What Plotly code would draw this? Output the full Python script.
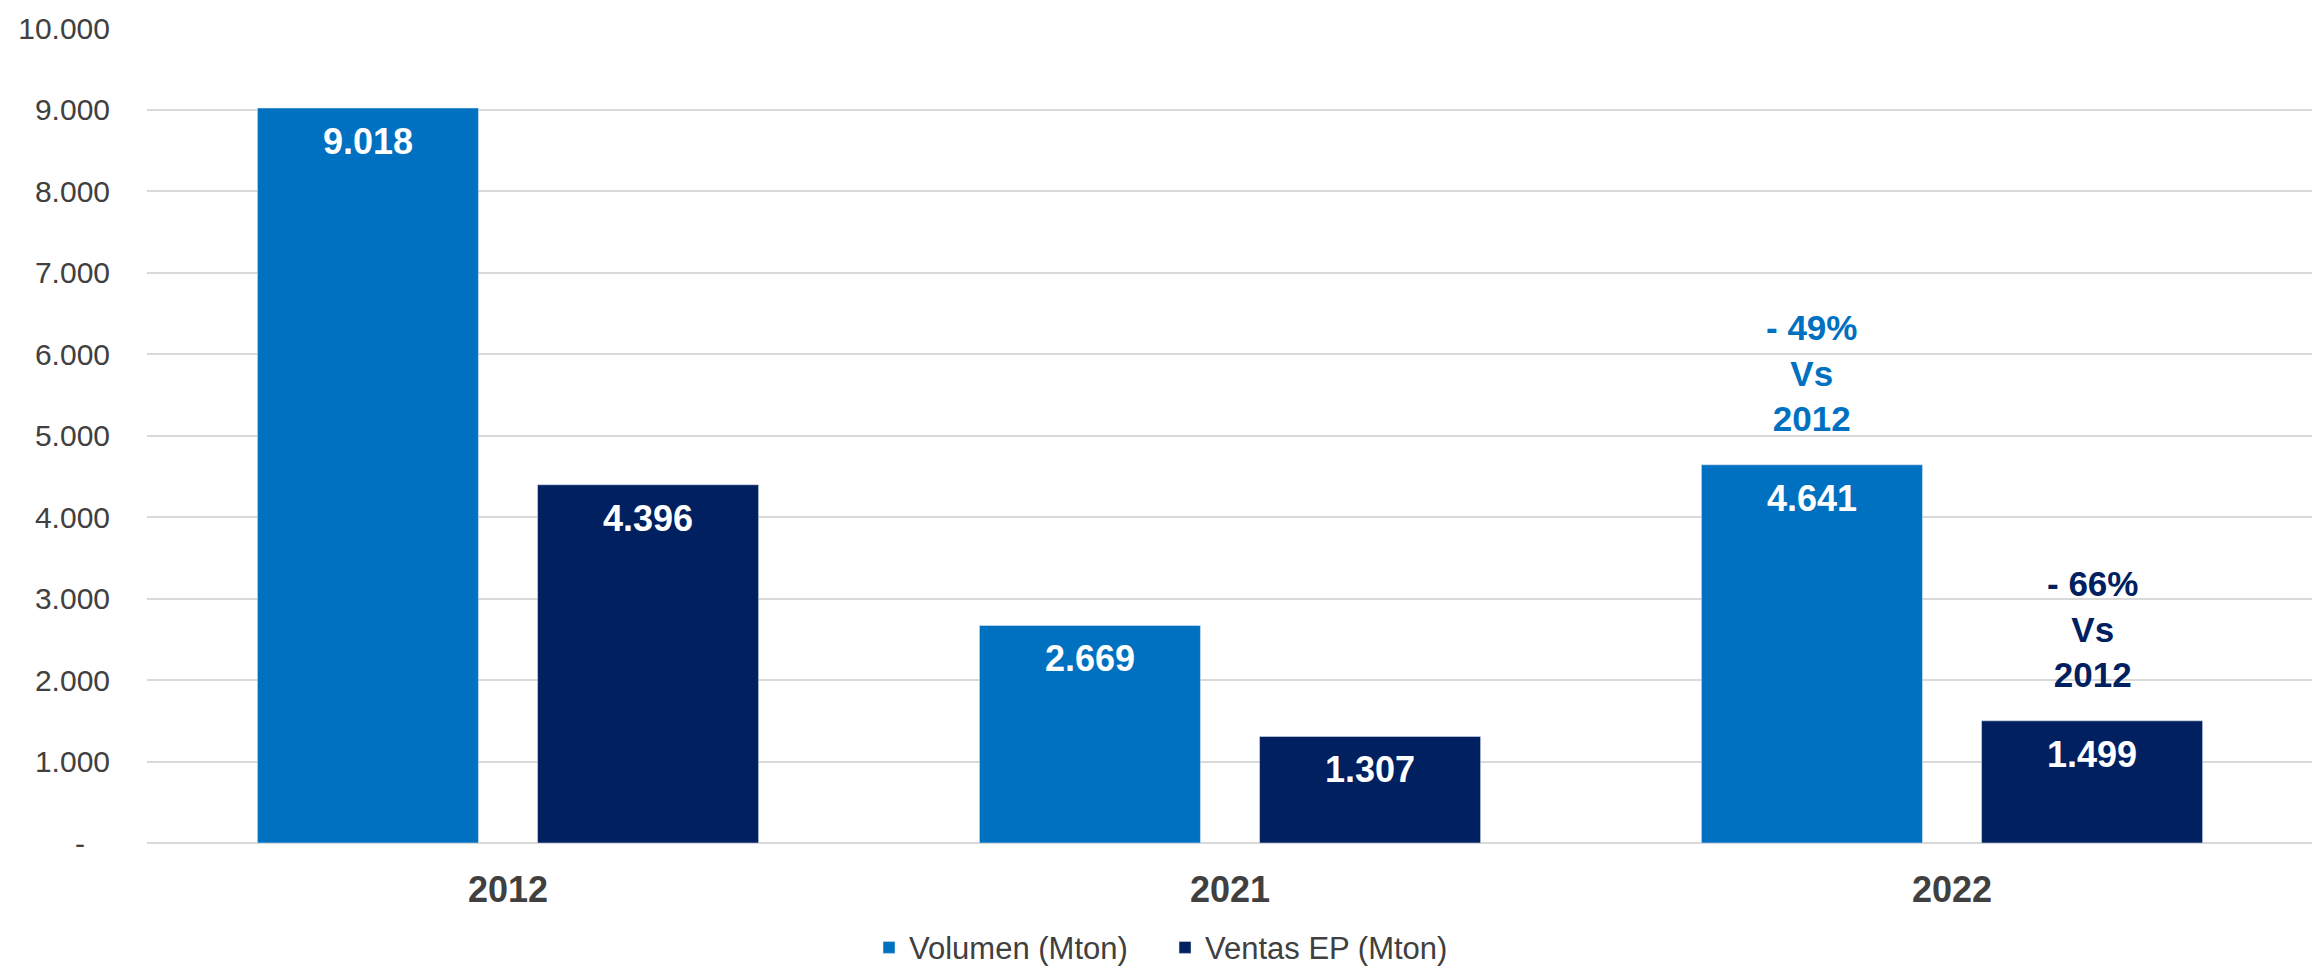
import plotly.graph_objects as go

# ─── Data ────────────────────────────────────────────────────────────
years = ["2012", "2021", "2022"]
volumen = [9018, 2669, 4641]
ventas_ep = [4396, 1307, 1499]

volumen_note = ["", "", "- 49%<br>Vs<br>2012"]
ventas_note = ["", "", "- 66%<br>Vs<br>2012"]

y_tickvals = [0, 1000, 2000, 3000, 4000, 5000, 6000, 7000, 8000, 9000, 10000]
y_ticktext = ["-\u00a0\u00a0\u00a0", "1.000", "2.000", "3.000", "4.000", "5.000",
              "6.000", "7.000", "8.000", "9.000", "10.000"]

BLUE = "#0070C0"
NAVY = "#002060"
GREY_TEXT = "#404040"
FONT = "Arial, Liberation Sans, sans-serif"
BARGAP = 0.224
BARGROUPGAP = 0.211


def _fmt(v):
    """Thousands with a dot, as in the Spanish original."""
    return f"{v:,.0f}".replace(",", ".")


fig = go.Figure()
fig.add_trace(go.Bar(x=years, y=volumen, name="Volumen (Mton)",
                     marker=dict(color=BLUE), hoverinfo="y"))
fig.add_trace(go.Bar(x=years, y=ventas_ep, name="Ventas EP (Mton)",
                     marker=dict(color=NAVY), hoverinfo="y"))

# value labels + "vs 2012" notes, centred on each bar of the group
slot = (1 - BARGAP) / 2
for k, (vals, notes, col) in enumerate([(volumen, volumen_note, BLUE),
                                        (ventas_ep, ventas_note, NAVY)]):
    shift = (k - 0.5) * slot
    for i, (v, note) in enumerate(zip(vals, notes)):
        fig.add_annotation(
            x=i + shift, y=v, xref="x", yref="y", text=_fmt(v),
            showarrow=False, yanchor="top", yshift=-11,
            font=dict(family=FONT, size=36, color="white", weight="bold"),
        )
        if note:
            fig.add_annotation(
                x=i + shift, y=v, xref="x", yref="y", text=note,
                showarrow=False, yanchor="bottom", yshift=25,
                font=dict(family=FONT, size=35, color=col, weight="bold"),
            )

# the page shifts the figure a few px to the right; left/right margins make up for it
fig.update_layout(
    width=2320, height=979,
    barmode="group", bargap=BARGAP, bargroupgap=BARGROUPGAP,
    paper_bgcolor="white", plot_bgcolor="white",
    font=dict(family=FONT, color=GREY_TEXT),
    margin=dict(l=139, r=15, t=20, b=126),
    legend=dict(
        orientation="h", x=0.47, y=-0.1285, xanchor="center", yanchor="middle",
        font=dict(size=31, color=GREY_TEXT), itemwidth=30,
        entrywidth=251, entrywidthmode="pixels",
    ),
)
fig.update_yaxes(
    range=[0, 10000], tickvals=y_tickvals, ticktext=y_ticktext,
    tickfont=dict(size=30, color=GREY_TEXT),
    showgrid=True, gridcolor="#D9D9D9", gridwidth=2,
    zeroline=True, zerolinecolor="#D9D9D9", zerolinewidth=2,
    ticklabelstandoff=36, ticklabeloverflow="allow", automargin=False,
)
fig.update_xaxes(
    tickfont=dict(size=36, color=GREY_TEXT, weight="bold"),
    ticklabelstandoff=22, showline=False, automargin=False,
)

fig.write_html("out.html")
